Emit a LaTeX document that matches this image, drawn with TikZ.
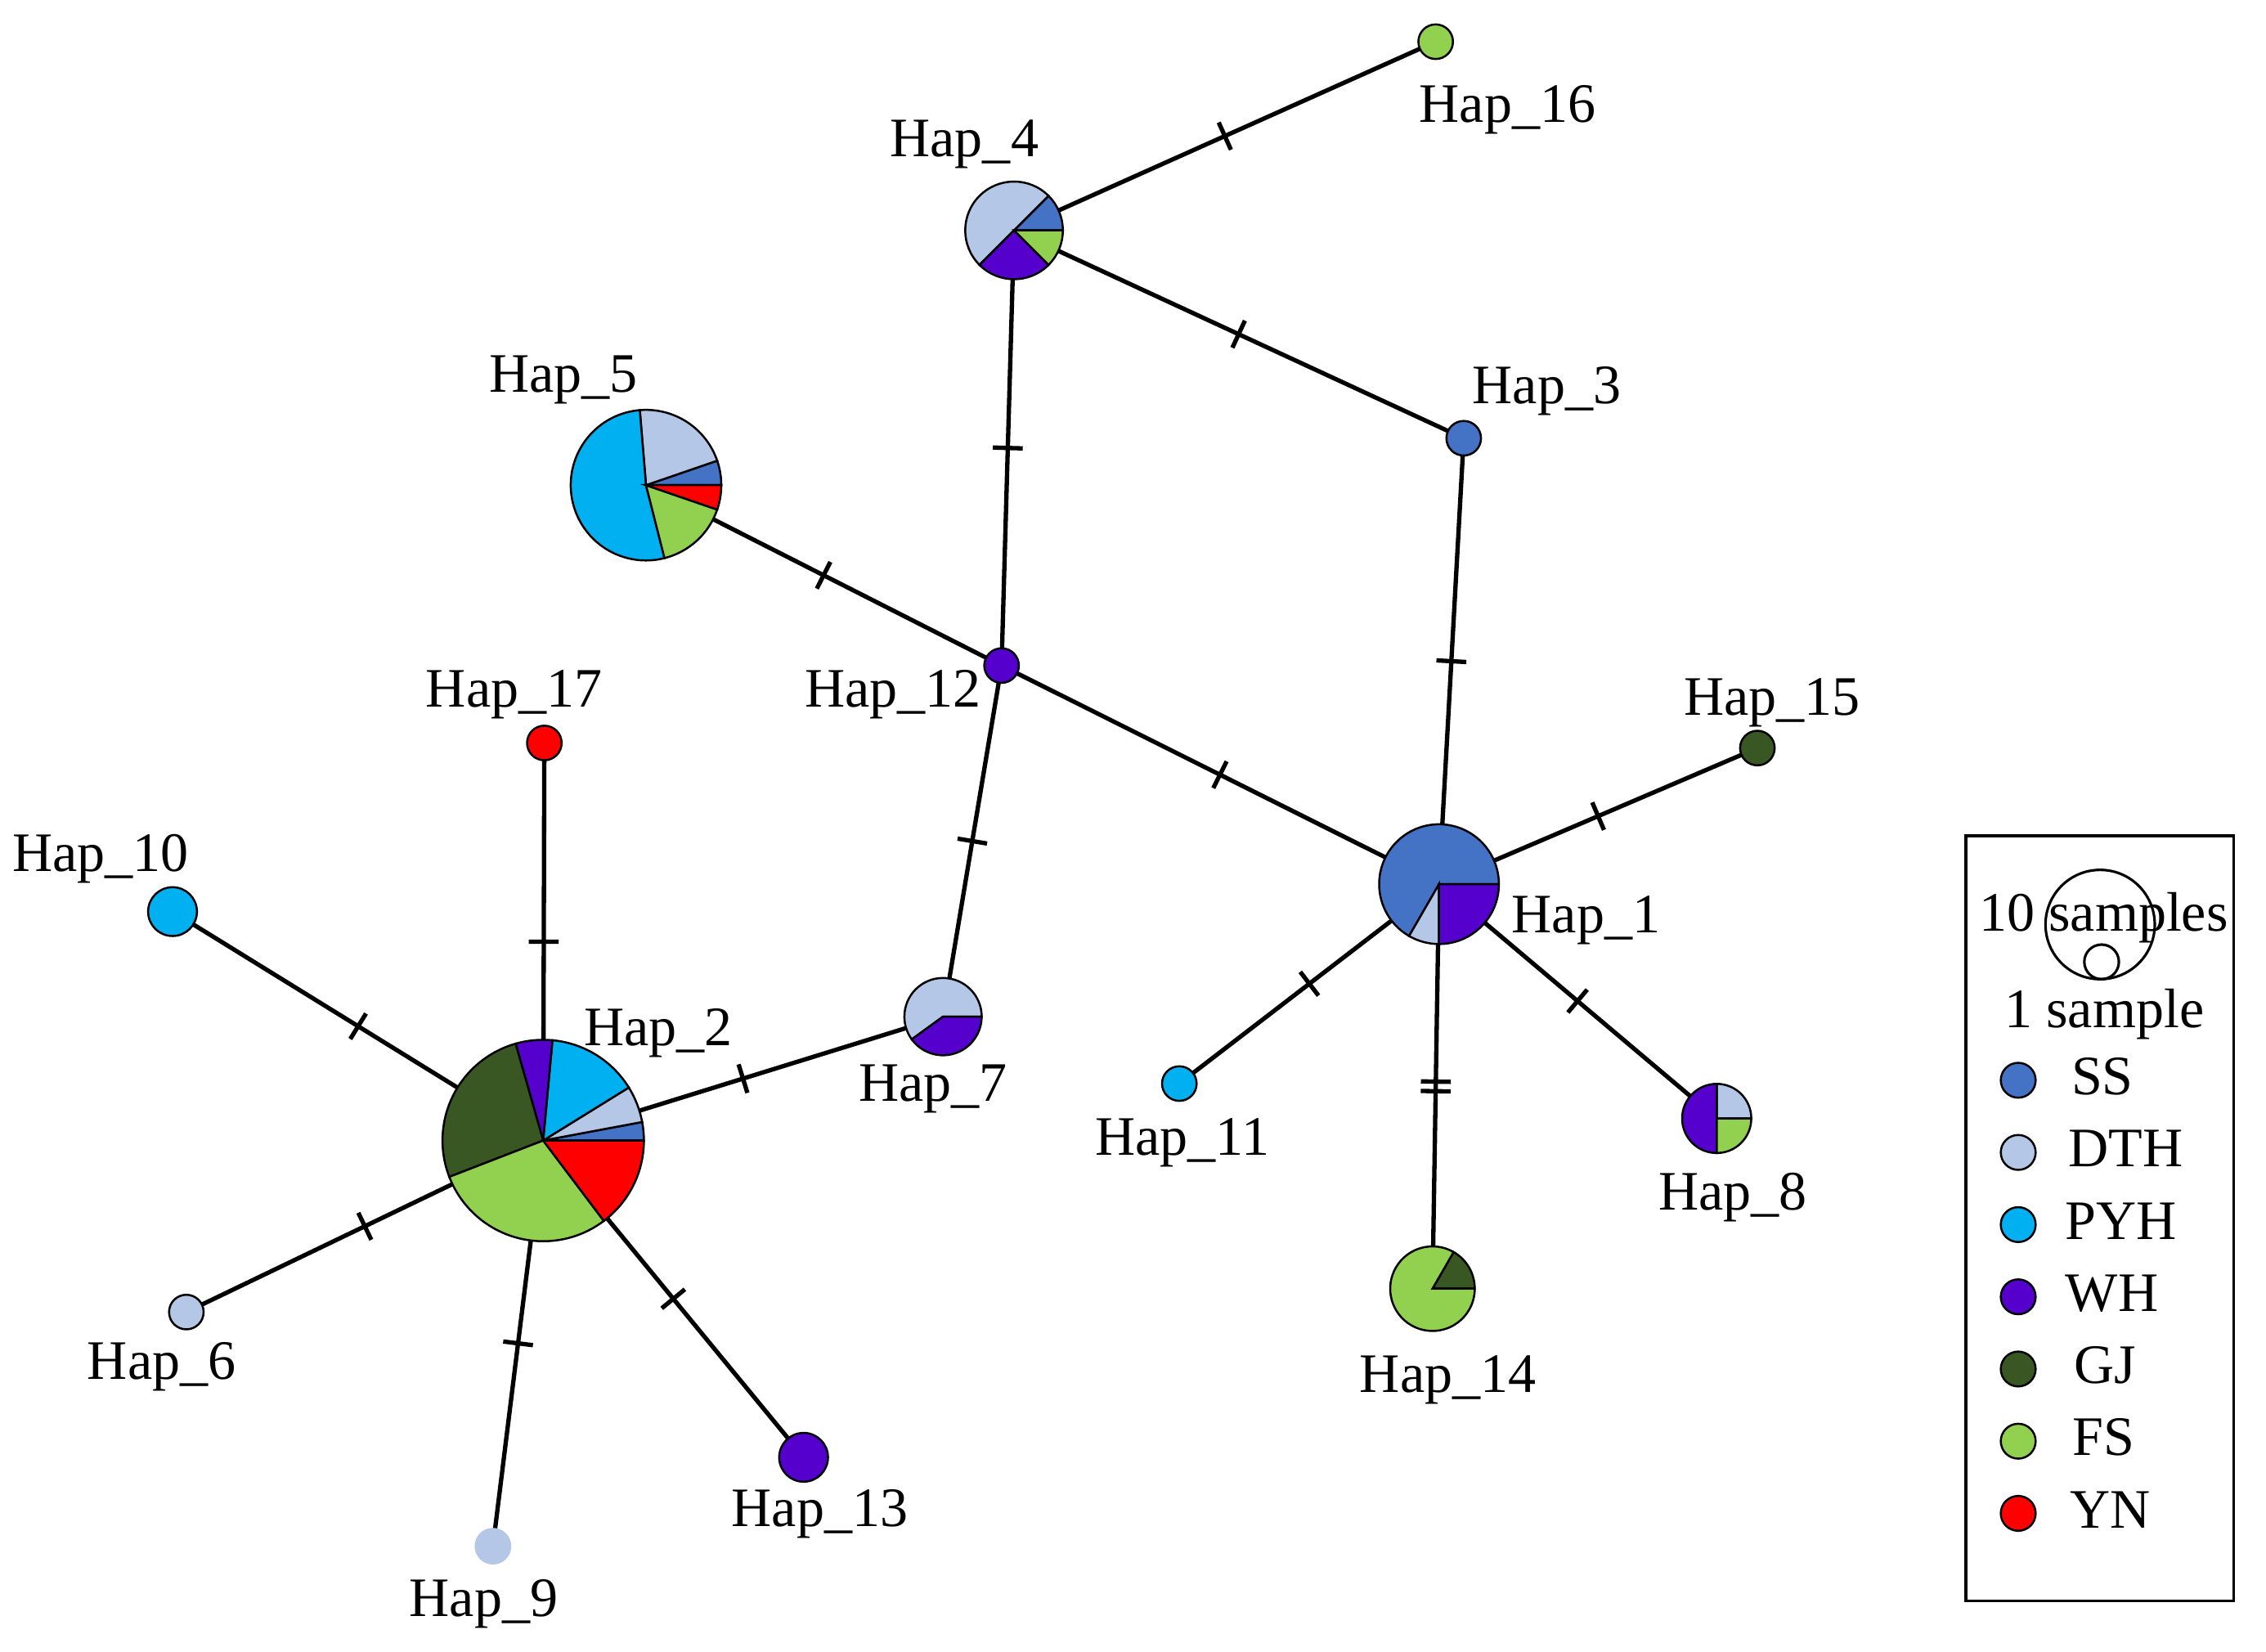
\documentclass[tikz,border=0pt]{standalone}
\usepackage{fontspec}
\setmainfont{Liberation Serif}
\usepackage{tikz}
\usetikzlibrary{decorations.markings}
\definecolor{ssblue}{RGB}{68,114,196}
\definecolor{dthblue}{RGB}{180,199,231}
\definecolor{pyhcyan}{RGB}{0,176,240}
\definecolor{whpurple}{RGB}{85,0,204}
\definecolor{gjgreen}{RGB}{56,87,35}
\definecolor{fsgreen}{RGB}{146,208,80}
\definecolor{ynred}{RGB}{255,0,0}

% one wedge of a haplotype pie: centre, radius, from, to, colour
\newcommand{\hapslice}[5]{%
  \filldraw[slice, fill=#5] (#1) -- ++(#3:#2) arc[start angle=#3, end angle=#4, radius=#2] -- cycle;}

\tikzset{
  link/.style={line width=0.85pt},
  mutation/.style={postaction={decorate}, decoration={markings,
      mark=at position 0.5 with {\draw[line width=0.85pt] (0,-10.3) -- (0,10.3);}}},
  twomutations/.style={postaction={decorate}, decoration={markings,
      mark=at position 0.5 with {\draw[line width=0.85pt] (-3.3,-10.3) -- (-3.3,10.3) (3.3,-10.3) -- (3.3,10.3);}}},
  slice/.style={draw=black, line width=0.4pt},
  haplabel/.style={inner sep=0pt, font=\fontsize{10.9}{13}\selectfont},
  legendbox/.style={draw=black, line width=0.55pt},
}

\begin{document}
\begin{tikzpicture}[x=0.01cm, y=0.01cm]
    \useasboundingbox (0,0) rectangle (1560.2,-1136.8);

    % Haplotype centres
    \coordinate (h1) at (990.8,-608.7);
    \coordinate (h2) at (374,-785.2);
    \coordinate (h3) at (1007.8,-301.7);
    \coordinate (h4) at (698.2,-158.6);
    \coordinate (h5) at (444.8,-334);
    \coordinate (h6) at (128.3,-903.3);
    \coordinate (h7) at (649.3,-699.9);
    \coordinate (h8) at (1182,-770);
    \coordinate (h9) at (339.4,-1064.5);
    \coordinate (h10) at (118.8,-627.6);
    \coordinate (h11) at (812,-746);
    \coordinate (h12) at (689.6,-458.2);
    \coordinate (h13) at (553.3,-1003.3);
    \coordinate (h14) at (986.3,-887.2);
    \coordinate (h15) at (1210,-515);
    \coordinate (h16) at (988.5,-28.7);
    \coordinate (h17) at (374.8,-511.5);

    % Links with mutation steps
    \draw[link, mutation] (h4) -- (h16);
    \draw[link, mutation] (h4) -- (h3);
    \draw[link, mutation] (h4) -- (h12);
    \draw[link, mutation] (h5) -- (h12);
    \draw[link, mutation] (h12) -- (h1);
    \draw[link, mutation] (h12) -- (h7);
    \draw[link, mutation] (h3) -- (h1);
    \draw[link, mutation] (h1) -- (h15);
    \draw[link, mutation] (h1) -- (h11);
    \draw[link, twomutations] (h1) -- (h14);
    \draw[link, mutation] (h1) -- (h8);
    \draw[link, mutation] (h2) -- (h7);
    \draw[link, mutation] (h2) -- (h17);
    \draw[link, mutation] (h2) -- (h10);
    \draw[link, mutation] (h2) -- (h6);
    \draw[link, mutation] (h2) -- (h9);
    \draw[link, mutation] (h2) -- (h13);

    % Hap_1 (12)
    \hapslice{h1}{0.412cm}{0}{240}{ssblue}
    \hapslice{h1}{0.412cm}{240}{270}{dthblue}
    \hapslice{h1}{0.412cm}{270}{360}{whpurple}
    % Hap_2 (34)
    \hapslice{h2}{0.693cm}{0}{10.59}{ssblue}
    \hapslice{h2}{0.693cm}{10.59}{31.76}{dthblue}
    \hapslice{h2}{0.693cm}{31.76}{84.71}{pyhcyan}
    \hapslice{h2}{0.693cm}{84.71}{105.88}{whpurple}
    \hapslice{h2}{0.693cm}{105.88}{201.18}{gjgreen}
    \hapslice{h2}{0.693cm}{201.18}{307.06}{fsgreen}
    \hapslice{h2}{0.693cm}{307.06}{360}{ynred}
    % Hap_4 (8)
    \hapslice{h4}{0.336cm}{0}{45}{ssblue}
    \hapslice{h4}{0.336cm}{45}{225}{dthblue}
    \hapslice{h4}{0.336cm}{225}{315}{whpurple}
    \hapslice{h4}{0.336cm}{315}{360}{fsgreen}
    % Hap_5 (19)
    \hapslice{h5}{0.518cm}{0}{18.95}{ssblue}
    \hapslice{h5}{0.518cm}{18.95}{94.74}{dthblue}
    \hapslice{h5}{0.518cm}{94.74}{284.21}{pyhcyan}
    \hapslice{h5}{0.518cm}{284.21}{341.05}{fsgreen}
    \hapslice{h5}{0.518cm}{341.05}{360}{ynred}
    % Hap_7 (5)
    \hapslice{h7}{0.266cm}{0}{216}{dthblue}
    \hapslice{h7}{0.266cm}{216}{360}{whpurple}
    % Hap_8 (4)
    \hapslice{h8}{0.238cm}{0}{90}{dthblue}
    \hapslice{h8}{0.238cm}{90}{270}{whpurple}
    \hapslice{h8}{0.238cm}{270}{360}{fsgreen}
    % Hap_14 (6)
    \hapslice{h14}{0.291cm}{0}{60}{gjgreen}
    \hapslice{h14}{0.291cm}{60}{360}{fsgreen}

    % single-population haplotypes
    \filldraw[slice, fill=ssblue] (h3) circle[radius=0.119cm];
    \filldraw[slice, fill=dthblue] (h6) circle[radius=0.119cm];
    \filldraw[slice, fill=dthblue, draw=dthblue] (h9) circle[radius=0.119cm];
    \filldraw[slice, fill=pyhcyan] (h10) circle[radius=0.168cm];
    \filldraw[slice, fill=pyhcyan] (h11) circle[radius=0.119cm];
    \filldraw[slice, fill=whpurple] (h12) circle[radius=0.119cm];
    \filldraw[slice, fill=whpurple] (h13) circle[radius=0.168cm];
    \filldraw[slice, fill=gjgreen] (h15) circle[radius=0.119cm];
    \filldraw[slice, fill=fsgreen] (h16) circle[radius=0.119cm];
    \filldraw[slice, fill=ynred] (h17) circle[radius=0.119cm];

    % Labels
    \node[haplabel] (l1) at (1092,-633.5) {Hap\_1};
    \node[haplabel] (l2) at (453.4,-711.2) {Hap\_2};
    \node[haplabel] (l3) at (1065,-269.2) {Hap\_3};
    \node[haplabel] (l4) at (664,-99.5) {Hap\_4};
    \node[haplabel] (l5) at (388,-261.5) {Hap\_5};
    \node[haplabel] (l6) at (111.3,-941) {Hap\_6};
    \node[haplabel] (l7) at (642.4,-749.5) {Hap\_7};
    \node[haplabel] (l8) at (1193,-824.3) {Hap\_8};
    \node[haplabel] (l9) at (333,-1104.5) {Hap\_9};
    \node[haplabel] (l10) at (69.4,-591.5) {Hap\_10};
    \node[haplabel] (l11) at (814,-786.5) {Hap\_11};
    \node[haplabel] (l12) at (614.8,-478) {Hap\_12};
    \node[haplabel] (l13) at (564.4,-1042.3) {Hap\_13};
    \node[haplabel] (l14) at (997,-950) {Hap\_14};
    \node[haplabel] (l15) at (1220,-484) {Hap\_15};
    \node[haplabel] (l16) at (1038,-75.3) {Hap\_16};
    \node[haplabel] (l17) at (354,-478.1) {Hap\_17};

    % Legend
    \draw[legendbox] (1353.6,-575.3) rectangle (1538,-1102);
    \draw[line width=0.5pt] (1446,-636.5) circle[radius=0.376cm];
    \draw[line width=0.5pt] (1447,-662.2) circle[radius=0.119cm];
    \node[haplabel, anchor=base west] (ten) at (1362,-640.8) {10 samples};
    \node[haplabel, anchor=base west] (one) at (1379.5,-707.6) {1 sample};

    \filldraw[slice, fill=ssblue] (1389.6,-743.7) circle[radius=0.12cm];
    \node[haplabel, anchor=base west] (kss) at (1425.5,-753.7) {SS};
    \filldraw[slice, fill=dthblue] (1389.6,-793.4) circle[radius=0.12cm];
    \node[haplabel, anchor=base west] (kdth) at (1423.5,-803.4) {DTH};
    \filldraw[slice, fill=pyhcyan] (1389.6,-843.1) circle[radius=0.12cm];
    \node[haplabel, anchor=base west] (kpyh) at (1421.5,-853.1) {PYH};
    \filldraw[slice, fill=whpurple] (1389.6,-892.8) circle[radius=0.12cm];
    \node[haplabel, anchor=base west] (kwh) at (1421.5,-902.8) {WH};
    \filldraw[slice, fill=gjgreen] (1389.6,-942.5) circle[radius=0.12cm];
    \node[haplabel, anchor=base west] (kgj) at (1427.5,-952.5) {GJ};
    \filldraw[slice, fill=fsgreen] (1389.6,-992.2) circle[radius=0.12cm];
    \node[haplabel, anchor=base west] (kfs) at (1426.5,-1002.2) {FS};
    \filldraw[slice, fill=ynred] (1389.6,-1041.9) circle[radius=0.12cm];
    \node[haplabel, anchor=base west] (kyn) at (1424.5,-1051.9) {YN};
\end{tikzpicture}
\end{document}
